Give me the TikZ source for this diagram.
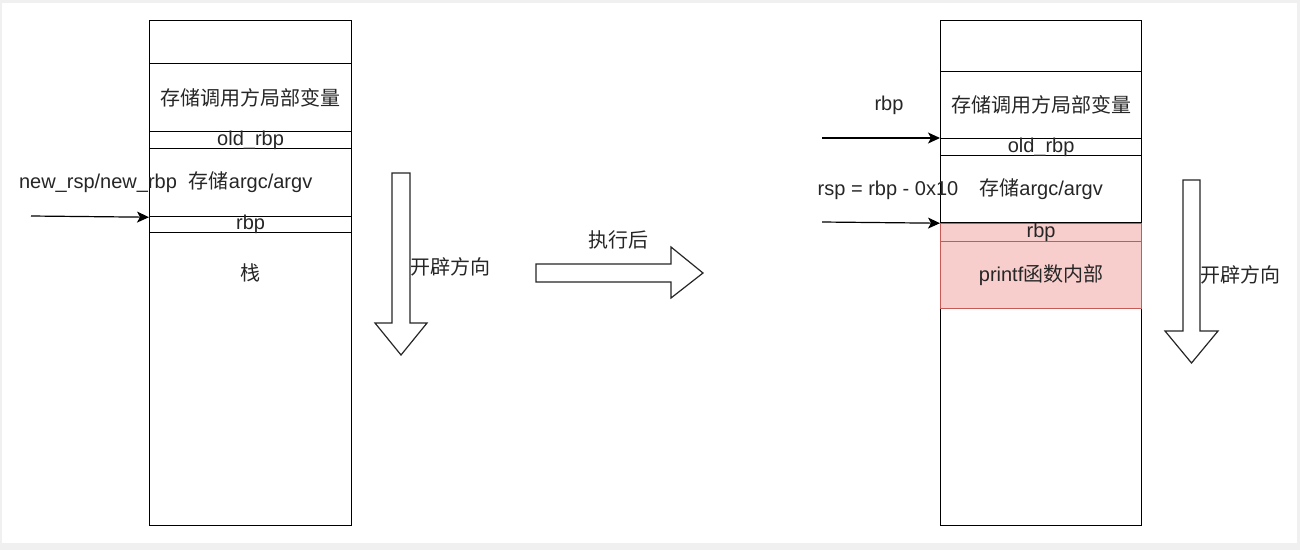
\documentclass[tikz,border=0pt]{standalone}
\usepackage{fontspec}
\setmainfont{Liberation Sans}
\newfontfamily\cjk{Noto Sans CJK SC}
\usetikzlibrary{arrows.meta}
\definecolor{txt}{HTML}{262626}
\definecolor{redfill}{HTML}{F8CECC}
\definecolor{redline}{HTML}{C85A56}
\definecolor{bggray}{HTML}{F0F0F0}
\begin{document}
\begin{tikzpicture}[x=1pt,y=-1pt,
  cell/.style={draw=black, line width=1.2pt, fill=white, rectangle, inner sep=0pt, anchor=north west},
  hot/.style={cell, draw=redline, fill=redfill},
  lbl/.style={text=txt, font=\fontsize{20}{24}\selectfont, inner sep=0pt},
  ptr/.style={-{Stealth[length=12pt,width=11pt,inset=3pt]}, line width=1.2pt, draw=black},
  blockarrow/.style={draw=black!85, line width=1.2pt, fill=white, line join=miter}
]
\useasboundingbox (0,0) rectangle (1300,550);
\fill[bggray] (0,0) rectangle (1300,550);
\fill[white] (2,3) rectangle (1297,543);

% left stack
\node[cell, minimum width=202pt, minimum height=43pt]  (L1) at (149,20)  {};
\node[cell, minimum width=202pt, minimum height=68pt]  (L2) at (149,63)  {};
\node[cell, minimum width=202pt, minimum height=17pt]  (L3) at (149,131) {};
\node[cell, minimum width=202pt, minimum height=68pt]  (L4) at (149,148) {};
\node[cell, minimum width=202pt, minimum height=16pt]  (L5) at (149,216) {};
\node[cell, minimum width=202pt, minimum height=293pt] (L6) at (149,232) {};

\node[lbl] (tL2) at (L2.center) {\cjk 存储调用方局部变量};
\node[lbl] (tL3) at (L3.center) {old\_rbp};
\node[lbl] (tL4) at (L4.center) {{\cjk 存储}argc/argv};
\node[lbl] (tL5) at (L5.center) {rbp};
\node[lbl] (tL6) at (250,273) {\cjk 栈};

\coordinate (pL) at (31,216);
\draw[ptr] (pL) -- (L4.south west);
\node[lbl] (lnew) at (98,183) {new\_rsp/new\_rbp};

% right stack
\node[cell, minimum width=201pt, minimum height=51pt]  (R1) at (940,20)  {};
\node[cell, minimum width=201pt, minimum height=67pt]  (R2) at (940,71)  {};
\node[cell, minimum width=201pt, minimum height=17pt]  (R3) at (940,138) {};
\node[cell, minimum width=201pt, minimum height=67pt]  (R4) at (940,155) {};
\node[cell, minimum width=201pt, minimum height=217pt] (R7) at (940,308) {};
\node[hot,  minimum width=201pt, minimum height=18pt]  (R5) at (940,223) {};
\node[hot,  minimum width=201pt, minimum height=67pt]  (R6) at (940,241) {};

\node[lbl] (tR2) at (R2.center) {\cjk 存储调用方局部变量};
\node[lbl] (tR3) at (R3.center) {old\_rbp};
\node[lbl] (tR4) at (R4.center) {{\cjk 存储}argc/argv};
\node[lbl] (tR5) at (R5.center) {rbp};
\node[lbl] (tR6) at (R6.center) {printf{\cjk 函数内部}};

\coordinate (pR1) at (822,138);
\coordinate (pR2) at (822,222);
\draw[ptr] (pR1) -- (R3.north west);
\draw[ptr] (pR2) -- (R4.south west);
\node[lbl] (lrbp) at (889,105) {rbp};
\node[lbl] (lrsp) at (888,190) {rsp = rbp - 0x10};

% block arrows
\draw[blockarrow] (392,173) -- (410,173) -- (410,323) -- (427,323) -- (401,355) -- (375,323) -- (392,323) -- cycle;
\draw[blockarrow] (1183,180) -- (1200,180) -- (1200,331) -- (1218,331) -- (1191.5,363) -- (1165,331) -- (1183,331) -- cycle;
\draw[blockarrow] (536,264) -- (671,264) -- (671,247) -- (703,273) -- (671,298) -- (671,282) -- (536,282) -- cycle;

\node[lbl] (dirL) at (450,267) {\cjk 开辟方向};
\node[lbl] (dirR) at (1240,275) {\cjk 开辟方向};
\node[lbl] (exec) at (618,240) {\cjk 执行后};
\end{tikzpicture}
\end{document}
